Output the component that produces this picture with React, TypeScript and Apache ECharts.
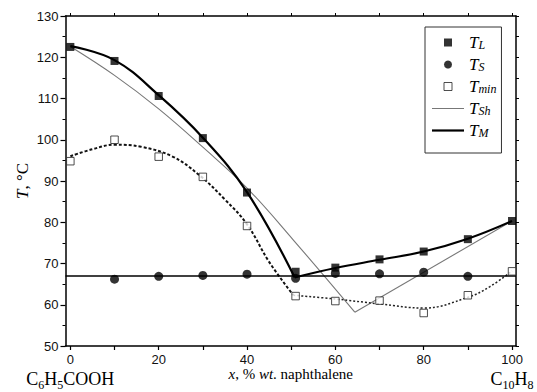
import React, { useEffect, useRef } from "react";
import * as echarts from "echarts";

const SERIF = "'Liberation Serif', 'Times New Roman', serif";
const SANS = "'Liberation Sans', Arial, sans-serif";

// Axis ticks / labels
const X_TICKS = [0, 10, 20, 30, 40, 50, 60, 70, 80, 90, 100];
const X_LABELS = [0, 20, 40, 60, 80, 100];

// Measured points
const xL = [0, 10, 20, 30, 40, 51, 60, 70, 80, 90, 100];
const tL = [122.5, 119.1, 110.6, 100.4, 87.2, 68.0, 69.0, 71.0, 72.9, 75.9, 80.3];

const xS = [10, 20, 30, 40, 51, 60, 70, 80, 90];
const tS = [66.2, 66.9, 67.1, 67.4, 66.4, 67.6, 67.5, 67.9, 66.9];
const tSLevel = 67.1;

const xMin = [0, 10, 20, 30, 40, 51, 60, 70, 80, 90, 100];
const tMin = [94.8, 100.0, 95.9, 91.0, 79.1, 62.1, 60.9, 61.0, 58.0, 62.3, 68.1];

// T_Sh curve (two branches)
const xShA = [0, 10, 20, 30, 40, 50.4, 64.4];
const tShA = [122.6, 115.6, 107.5, 98.2, 88.3, 75.8, 58.2];
const xShB = [64.4, 100];
const tShB = [58.2, 80.3];

// T_M curve (two branches)
const xMA = [0, 10, 20, 30, 40, 50.8];
const tMA = [122.7, 119.3, 110.8, 100.5, 87.3, 66.6];
const xMB = [50.8, 60, 70, 80, 90, 100];
const tMB = [66.6, 68.9, 70.9, 72.9, 76.0, 80.3];

// T_min fitted curves
const xFitA = [0, 5, 10, 16, 23, 29, 35, 40, 45, 50.5];
const tFitA = [96.0, 97.7, 98.8, 98.3, 96.0, 91.6, 85.5, 79.5, 70.4, 62.3];
const xFitB = [50.5, 60, 70, 80, 90, 95, 100];
const tFitB = [62.3, 61.4, 60.2, 59.2, 61.8, 64.4, 68.2];

const LEGEND_SUB: Record<string, string> = { TL: "L", TS: "S", Tmin: "min", TSh: "Sh", TM: "M" };

const SQUARE = "path://M0,0L10,0L10,10L0,10Z";
const THIN_LINE = "path://M0,0L32,0L32,1L0,1Z";
const THICK_LINE = "path://M0,0L32,0L32,2.2L0,2.2Z";

const pts = (xs: number[], ys: number[]) => xs.map((x, i) => [x, ys[i]]);

export default function App() {
  const ref = useRef<HTMLDivElement>(null);
  useEffect(() => {
    const chart = echarts.init(ref.current!, null, { renderer: "svg" });
    const axisLine = { show: true, onZero: false, lineStyle: { color: "#000", width: 1.5 } };
    const option: any = {
      animation: false,
      backgroundColor: "#fff",
      grid: { left: 65.5, right: 21, top: 16, bottom: 46, containLabel: false, outerBoundsMode: "none" },
      legend: {
        orient: "vertical",
        left: 425,
        top: 27,
        padding: [7, 5, 14, 7],
        itemWidth: 32,
        itemHeight: 8,
        itemGap: 5,
        borderColor: "#333",
        borderWidth: 1,
        data: [
          { name: "TL", icon: SQUARE, itemStyle: { borderWidth: 0 } },
          { name: "TS", icon: "circle" },
          { name: "Tmin", icon: SQUARE, itemStyle: { color: "#fff", borderColor: "#222", borderWidth: 1 } },
          { name: "TSh", icon: THIN_LINE, itemStyle: { color: "#777", borderWidth: 0 } },
          { name: "TM", icon: THICK_LINE, itemStyle: { color: "#000", borderWidth: 0 } },
        ],
        formatter: (name: string) => `{t|T}{s|${LEGEND_SUB[name]}}`,
        textStyle: {
          rich: {
            t: { fontFamily: SERIF, fontStyle: "italic", fontSize: 17, lineHeight: 16, color: "#000" },
            s: { fontFamily: SERIF, fontStyle: "italic", fontSize: 12, lineHeight: 12, verticalAlign: "bottom", color: "#000" },
          },
        },
      },
      xAxis: [
        {
          type: "value",
          position: "bottom",
          min: -1.1,
          max: 100.9,
          axisLine,
          axisTick: { show: true, customValues: X_TICKS, length: 4, lineStyle: { color: "#000", width: 1.2 } },
          axisLabel: {
            customValues: X_LABELS,
            margin: 7,
            fontSize: 13,
            lineHeight: 13,
            fontFamily: SANS,
            color: "#111",
            formatter: (v: number) => {
              if (v === 0) return "0\n{f|C}{b|6}{f|H}{b|5}{f|COOH}";
              if (v === 100) return "100\n{f|C}{b|10}{f|H}{b|8}";
              return String(v);
            },
            rich: {
              f: { fontFamily: SERIF, fontSize: 18, lineHeight: 25, color: "#000" },
              b: { fontFamily: SERIF, fontSize: 12, lineHeight: 18, verticalAlign: "bottom", color: "#000" },
            },
          },
          splitLine: { show: false },
          name: "{i|x}{n|, % }{i|wt}{n|. naphthalene}",
          nameLocation: "middle",
          nameGap: 20,
          nameMoveOverlap: false,
          nameTextStyle: {
            rich: {
              i: { fontFamily: SERIF, fontStyle: "italic", fontSize: 15, lineHeight: 16, color: "#000" },
              n: { fontFamily: SERIF, fontSize: 15, lineHeight: 16, color: "#000" },
            },
          },
        },
        {
          type: "value",
          position: "top",
          min: -1.1,
          max: 100.9,
          axisLine,
          axisTick: { show: true, customValues: X_TICKS, length: 3, lineStyle: { color: "#000", width: 1 } },
          axisLabel: { show: false, customValues: X_TICKS },
          splitLine: { show: false },
        },
      ],
      yAxis: [
        {
          type: "value",
          position: "left",
          min: 50,
          max: 130,
          interval: 10,
          axisLine,
          axisTick: { show: true, length: 5, lineStyle: { color: "#000", width: 1.2 } },
          minorTick: { show: true, splitNumber: 2, length: 3, lineStyle: { color: "#000", width: 1 } },
          axisLabel: { margin: 7, fontSize: 13, fontFamily: SANS, color: "#111" },
          splitLine: { show: false },
          minorSplitLine: { show: false },
          name: "{i|T}{n|, °C}",
          nameLocation: "middle",
          nameGap: 35,
          nameMoveOverlap: false,
          nameTextStyle: {
            rich: {
              i: { fontFamily: SERIF, fontStyle: "italic", fontSize: 17, color: "#000" },
              n: { fontFamily: SERIF, fontSize: 17, color: "#000" },
            },
          },
        },
        {
          type: "value",
          position: "right",
          min: 50,
          max: 130,
          interval: 5,
          axisLine,
          axisTick: { show: true, length: 3, lineStyle: { color: "#000", width: 1 } },
          axisLabel: { show: false },
          splitLine: { show: false },
        },
      ],
      series: [
        {
          name: "TSh", type: "line", data: pts(xShA, tShA), smooth: 0.4, symbol: "none",
          lineStyle: { color: "#777", width: 1.1 }, itemStyle: { color: "#777" }, z: 2,
        },
        {
          name: "TSh", type: "line", data: pts(xShB, tShB), symbol: "none",
          lineStyle: { color: "#777", width: 1.1 }, itemStyle: { color: "#777" }, z: 2,
        },
        {
          name: "TM", type: "line", data: pts(xMA, tMA), smooth: 0.4, symbol: "none",
          lineStyle: { color: "#000", width: 2.2 }, itemStyle: { color: "#000" }, z: 3,
        },
        {
          name: "TM", type: "line", data: pts(xMB, tMB), smooth: 0.4, symbol: "none",
          lineStyle: { color: "#000", width: 2.2 }, itemStyle: { color: "#000" }, z: 3,
        },
        {
          name: "Tmin fit A", type: "line", data: pts(xFitA, tFitA), smooth: 0.4, symbol: "none",
          lineStyle: { color: "#111", width: 2, type: [3, 2] }, z: 2,
        },
        {
          name: "Tmin fit B", type: "line", data: pts(xFitB, tFitB), smooth: 0.4, symbol: "none",
          lineStyle: { color: "#222", width: 1.5, type: [2, 2] }, z: 2,
        },
        {
          name: "TL", type: "scatter", data: pts(xL, tL), symbol: "rect", symbolSize: 8,
          itemStyle: { color: "#000" }, z: 5,
        },
        {
          name: "TS", type: "scatter", data: pts(xS, tS), symbol: "circle", symbolSize: 9,
          itemStyle: { color: "#000" }, z: 5,
          markLine: {
            silent: true, symbol: "none", label: { show: false },
            lineStyle: { color: "#000", width: 1.5, type: "solid" },
            data: [{ yAxis: tSLevel }],
          },
        },
        {
          name: "Tmin", type: "scatter", data: pts(xMin, tMin), symbol: "rect", symbolSize: 7.5,
          itemStyle: { color: "#fff", borderColor: "#222", borderWidth: 1 }, z: 6,
        },
      ],
    };
    chart.setOption(option);
    return () => chart.dispose();
  }, []);
  return <div ref={ref} style={{ position: "fixed", left: 0, top: 0, width: 537, height: 392 }} />;
}
